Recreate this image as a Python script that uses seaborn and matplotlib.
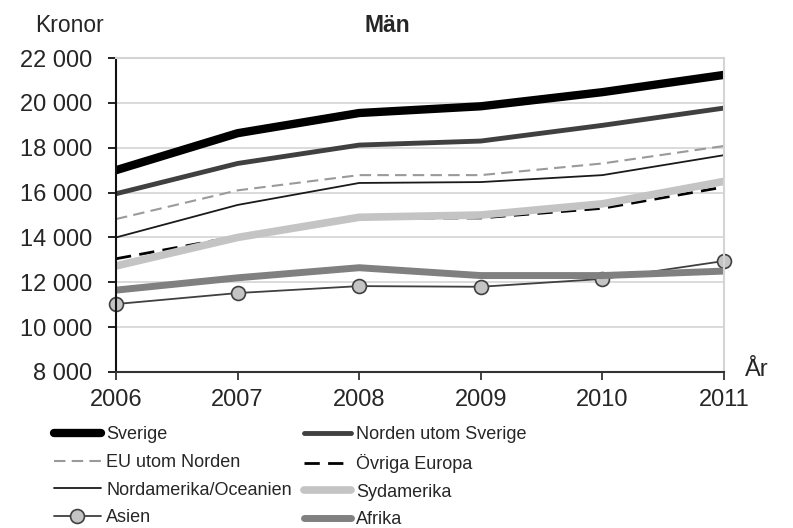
import numpy as np
import pandas as pd
import seaborn as sns
import matplotlib.pyplot as plt
from matplotlib import font_manager

# Data (kronor per month, men)
years = [2006, 2007, 2008, 2009, 2010, 2011]
sverige = [17000, 18650, 19550, 19850, 20480, 21250]
norden = [15950, 17300, 18120, 18300, 19000, 19770]
eu = [14820, 16100, 16780, 16780, 17300, 18080]
ovriga_europa = [13050, 14050, 14870, 14870, 15300, 16250]
nordamerika = [14000, 15450, 16430, 16470, 16780, 17670]
sydamerika = [12730, 14000, 14900, 15000, 15500, 16500]
asien = [11030, 11520, 11830, 11800, 12150, 12950]
afrika = [11650, 12200, 12650, 12300, 12300, 12500]

y_ticks = [8000, 10000, 12000, 14000, 16000, 18000, 20000, 22000]


def fmt(v):
  return f"{v:,}".replace(",", " ")


def main():
  sns.set_style("white")
  plt.rcParams['font.family'] = ['Liberation Sans', 'DejaVu Sans']

  installed = {f.name for f in font_manager.fontManager.ttflist}
  narrow = 'Liberation Sans Narrow' in installed

  fig = plt.figure(figsize=(7.93, 5.28), dpi=100)
  ax = fig.add_axes([0.1463, 0.2955, 0.913 - 0.1463, 0.890 - 0.2955])

  # style per series: (label, values, color, lw, linestyle, extra)
  series = [
    ("Nordamerika/Oceanien", nordamerika, "#1a1a1a", 1.3, "-", {}),
    ("EU utom Norden", eu, "#9a9a9a", 1.5, (0, (5.5, 3)), {}),
    ("Övriga Europa", ovriga_europa, "#000000", 2.0, (0, (5.5, 3)), {}),
    ("Sydamerika", sydamerika, "#c4c4c4", 5.5, "-", {}),
    ("Asien", asien, "#404040", 1.3, "-",
     dict(marker="o", markersize=10, markerfacecolor="#c4c4c4",
          markeredgecolor="#404040", markeredgewidth=1.2, clip_on=False)),
    ("Afrika", afrika, "#808080", 5.0, "-", {}),
    ("Norden utom Sverige", norden, "#404040", 3.5, "-", {}),
    ("Sverige", sverige, "#000000", 6.0, "-", {}),
  ]
  for label, vals, color, lw, ls, extra in series:
    sns.lineplot(x=years, y=vals, ax=ax, color=color, linewidth=lw,
                 linestyle=ls, label=label, **extra)
  if ax.get_legend() is not None:
    ax.get_legend().remove()

  ax.set_xlim(2006, 2011)
  ax.set_ylim(8000, 22000)
  ax.set_yticks(y_ticks)
  ax.set_yticklabels([fmt(v) for v in y_ticks])
  ax.set_xticks(years)
  ax.set_xticklabels([str(y) for y in years])
  ax.set_xlabel("")
  ax.set_ylabel("")

  ax.yaxis.grid(True, color="#d4d4d4", linewidth=1.2)
  ax.set_axisbelow(True)
  for s in ["top", "right"]:
    ax.spines[s].set_color("#d4d4d4")
    ax.spines[s].set_linewidth(1.5)
  ax.spines["left"].set_color("#111111")
  ax.spines["left"].set_linewidth(1.5)
  ax.spines["bottom"].set_color("#333333")
  ax.spines["bottom"].set_linewidth(1.5)
  ax.tick_params(axis="y", direction="out", length=6, width=1.3,
                 color="#111111", pad=11, labelsize=17, left=True)
  ax.tick_params(axis="x", direction="out", length=6, width=1.3,
                 color="#333333", pad=6, labelsize=17, bottom=True)

  fig.text(35 / 793, 1 - 25 / 528, "Kronor", fontsize=16.5, va="center", ha="left")
  fig.text(387 / 793, 1 - 25 / 528, "Män", fontsize=16.5, fontweight="bold",
           va="center", ha="center")
  fig.text(745 / 793, 1 - 370 / 528, "År", fontsize=17, va="center", ha="left")

  handles, labels = ax.get_legend_handles_labels()
  lookup = dict(zip(labels, handles))
  order = ["Sverige", "EU utom Norden", "Nordamerika/Oceanien", "Asien",
           "Norden utom Sverige", "Övriga Europa", "Sydamerika", "Afrika"]
  if narrow:
    leg_font = dict(family='Liberation Sans Narrow', size=15.5)
    colsp = 1.1
  else:
    leg_font = dict(family='Liberation Sans', size=13)
    colsp = 0.65
  fig.legend([lookup[k] for k in order], order, ncol=2, frameon=False,
             loc="upper left", bbox_to_anchor=(54 / 793, 1 - 426 / 528),
             borderaxespad=0, borderpad=0, prop=leg_font, handlelength=2.6,
             handletextpad=0.3, columnspacing=colsp, labelspacing=0.6)

  fig.savefig("out.png", dpi=100)


if __name__ == "__main__":
  main()
